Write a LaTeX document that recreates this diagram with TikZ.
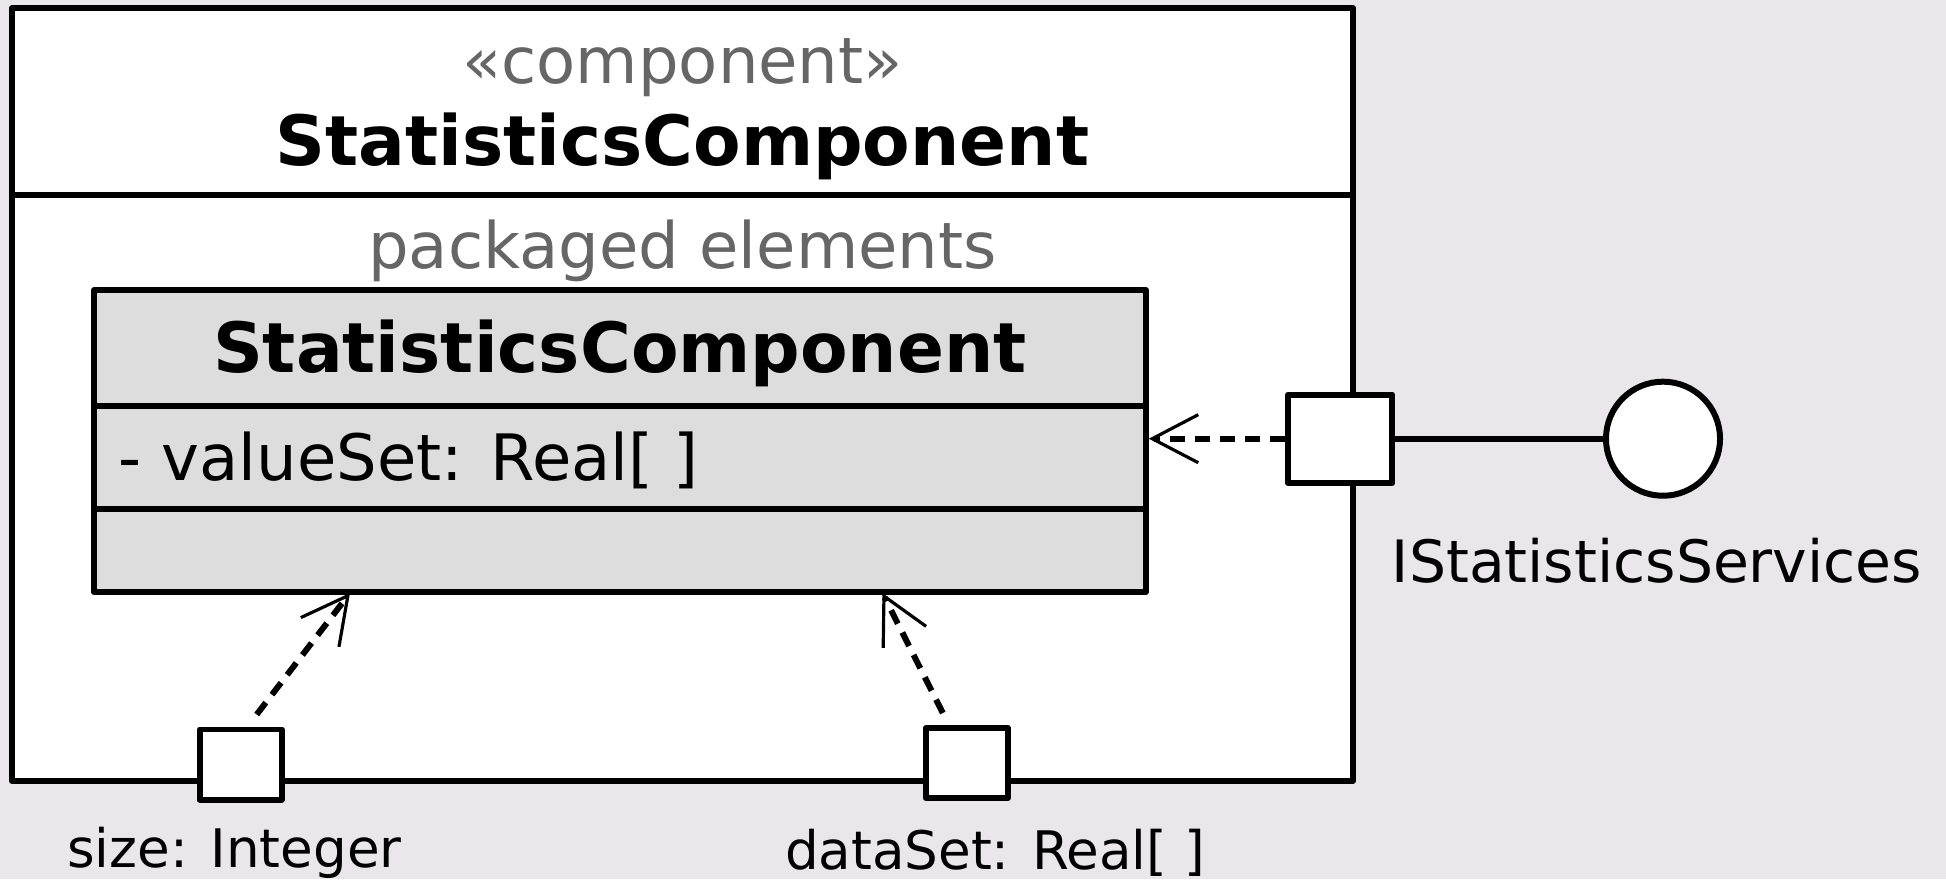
\documentclass[tikz,border=0pt]{standalone}
\usepackage{xcolor}
\usepackage{fontspec}
\setmainfont{DejaVu Sans}
\usetikzlibrary{arrows.meta}
\definecolor{bggray}{HTML}{E9E7E9}
\definecolor{classgray}{HTML}{DDDDDD}
\definecolor{labelgray}{HTML}{666666}

\begin{document}
\begin{tikzpicture}[x=0.01cm, y=-0.01cm, line width=1.7pt, line join=round,
    port/.style={draw, fill=white, inner sep=0pt, minimum width=0.82cm, minimum height=0.7cm},
    dep/.style={dash pattern=on 0.15cm off 0.1cm, -{Straight Barb[length=4.6mm, width=4.8mm, line width=0.9pt]}},
    plain/.style={font=\fontsize{18.2}{22}\selectfont, inner sep=0pt},
    title/.style={font=\fontsize{19.7}{24}\selectfont\bfseries, inner sep=0pt}]

    % Background
    \fill[bggray] (0,0) rectangle (1946,879);
    \useasboundingbox (0,0) rectangle (1946,879);

    % Nodes
    \node (comp) [draw, fill=white, inner sep=0pt, minimum width=13.403cm, minimum height=7.719cm] at (682.5,394.6) {};
    \node (stereo) [plain, text=labelgray] at (682.5,68) {«component»};
    \node (compname) [title] at (682.5,146) {StatisticsComponent};
    \node (packlbl) [plain, text=labelgray] at (682.5,251) {packaged elements};
    \node (cls) [draw, fill=classgray, inner sep=0pt, minimum width=10.512cm, minimum height=3.016cm] at (619.9,441.2) {};
    \node (clsname) [title] at (619.9,353) {StatisticsComponent};
    \node (attr) [plain, anchor=west] at (115.4,460) {- valueSet: Real[ ]};
    \node (pR) [port, minimum width=1.044cm, minimum height=0.882cm] at (1340.2,438.7) {};
    \node (iface) [draw, fill=white, circle, inner sep=0pt, minimum size=1.14cm] at (1663,438.7) {};
    \node (ifacelbl) [plain, font=\fontsize{16.6}{20}\selectfont] at (1657,561) {IStatisticsServices};
    \node (pSize) [port] at (240.7,764.5) {};
    \node (pData) [port] at (966.8,763) {};
    \node (sizelbl) [plain, font=\fontsize{15.1}{18}\selectfont] at (234.5,853) {size: Integer};
    \node (datalbl) [plain, font=\fontsize{15.1}{18}\selectfont] at (995,853) {dataSet: Real[ ]};
    \coordinate (sizeTip) at (350,593);
    \coordinate (dataTip) at (882.4,593);

    % Compartment lines
    \draw (comp.west |- 0,194.8) -- (comp.east |- 0,194.8);
    \draw (cls.west |- 0,405.8) -- (cls.east |- 0,405.8);
    \draw (cls.west |- 0,508.8) -- (cls.east |- 0,508.8);

    % Arrows
    \draw (pR.east) -- (iface.west);
    \draw[dep] (pR.west) -- (cls.east |- pR.west);
    \draw[dep] ([shift={(16,-12)}]pSize.north) -- (sizeTip);
    \draw[dep] ([shift={(-24,-12)}]pData.north) -- (dataTip);

\end{tikzpicture}
\end{document}
